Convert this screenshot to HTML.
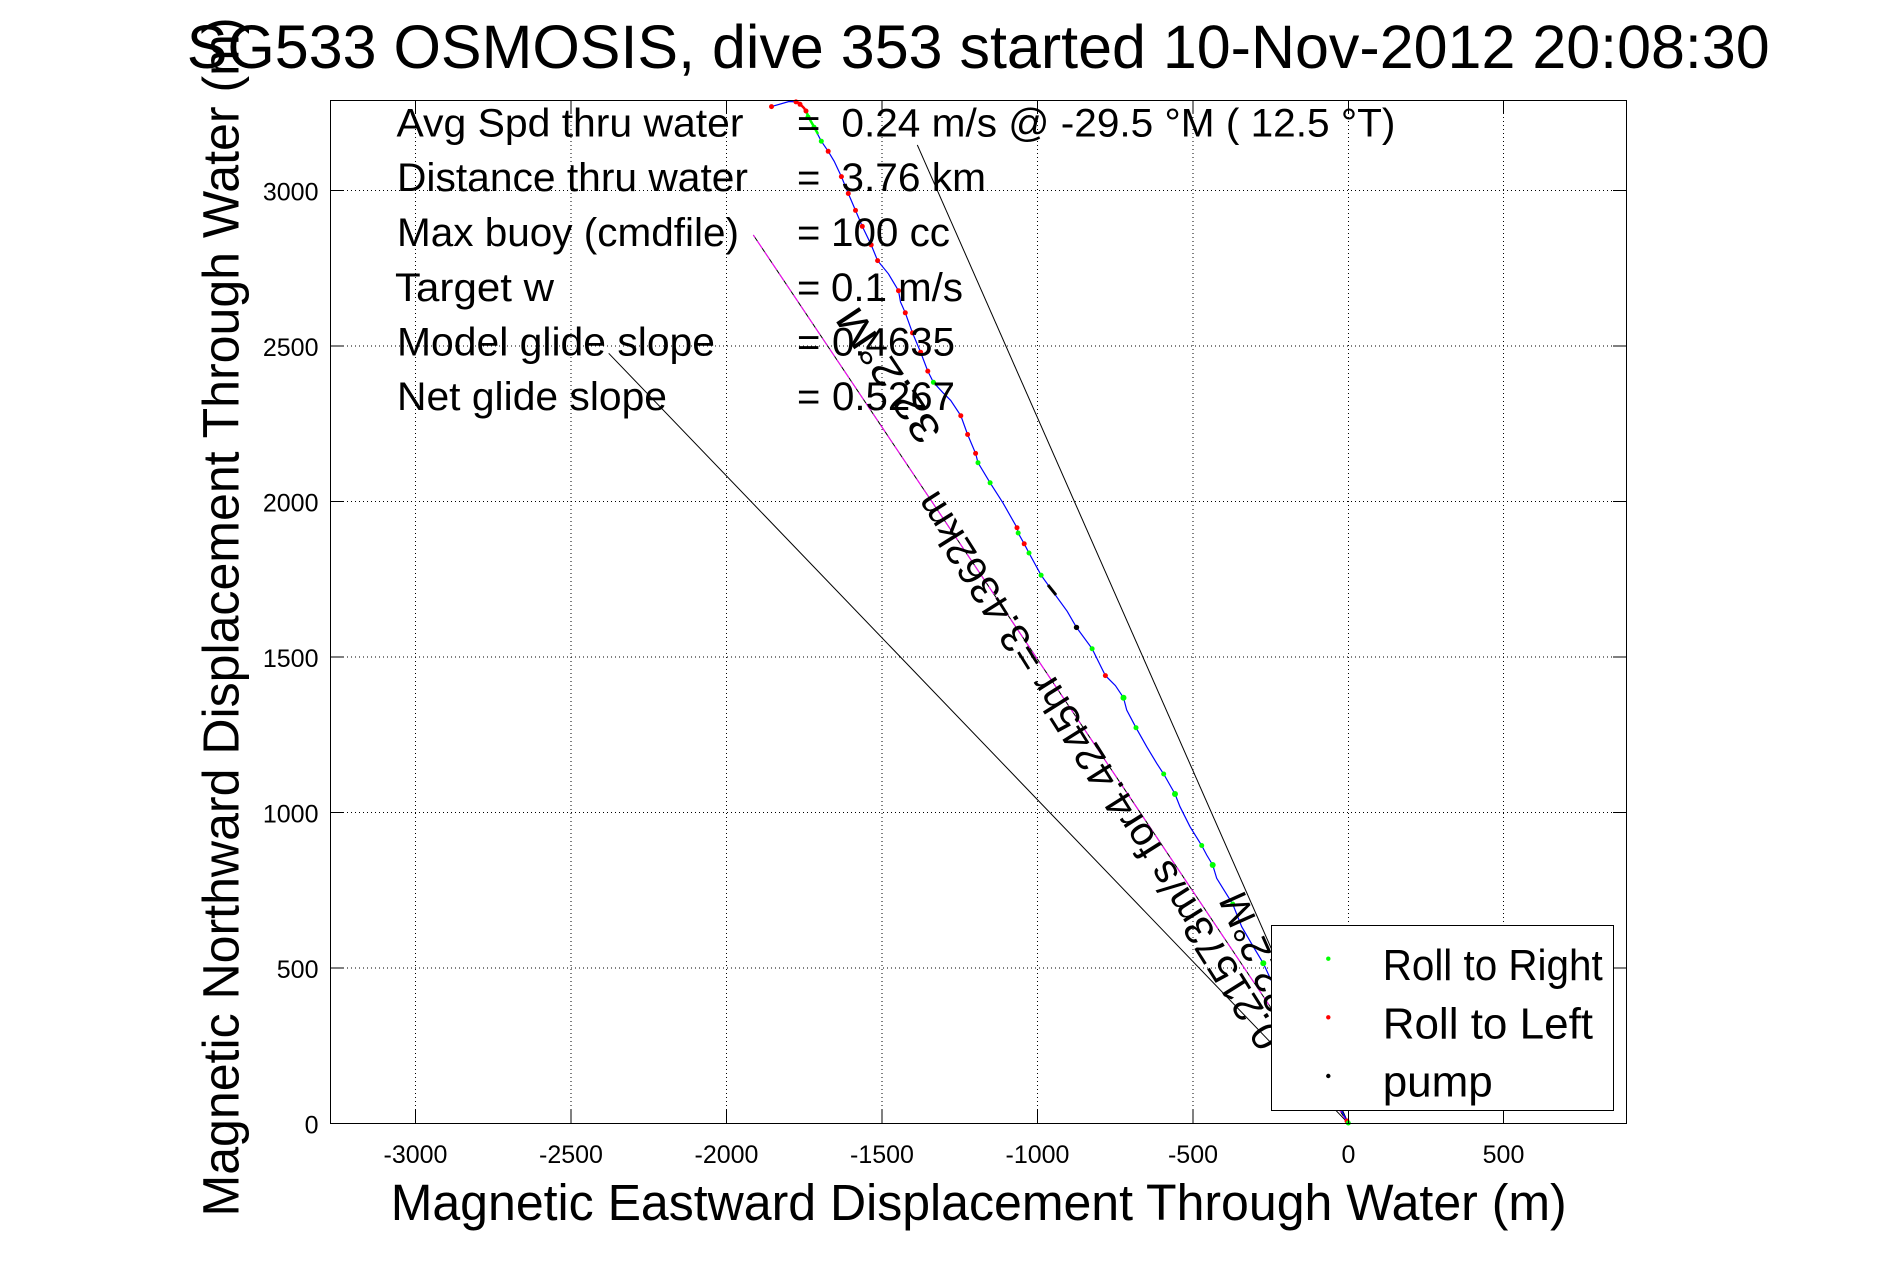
<!DOCTYPE html>
<html><head><meta charset="utf-8"><style>
html,body{margin:0;padding:0;background:#fff;}
svg{display:block;}
text{font-family:"Liberation Sans",Arial,Helvetica,sans-serif;fill:#000;}
</style></head><body>
<svg width="1891" height="1262" viewBox="0 0 1891 1262" xmlns="http://www.w3.org/2000/svg">
<rect x="0" y="0" width="1891" height="1262" fill="#fff"/>
<rect x="330.5" y="100.5" width="1296" height="1023" fill="#fff"/>
<g stroke="#000" stroke-width="1" stroke-dasharray="1,3" shape-rendering="crispEdges" fill="none">
<line x1="415.5" y1="101" x2="415.5" y2="1123"/>
<line x1="571" y1="101" x2="571" y2="1123"/>
<line x1="726.5" y1="101" x2="726.5" y2="1123"/>
<line x1="882" y1="101" x2="882" y2="1123"/>
<line x1="1037.5" y1="101" x2="1037.5" y2="1123"/>
<line x1="1193" y1="101" x2="1193" y2="1123"/>
<line x1="1348.5" y1="101" x2="1348.5" y2="1123"/>
<line x1="1503.5" y1="101" x2="1503.5" y2="1123"/>
<line x1="331" y1="190.5" x2="1626" y2="190.5"/>
<line x1="331" y1="346" x2="1626" y2="346"/>
<line x1="331" y1="501.5" x2="1626" y2="501.5"/>
<line x1="331" y1="657" x2="1626" y2="657"/>
<line x1="331" y1="812.5" x2="1626" y2="812.5"/>
<line x1="331" y1="968" x2="1626" y2="968"/>
</g>
<g fill="none" stroke-width="1">
<line x1="1348.3" y1="1123.3" x2="608.7" y2="353.3" stroke="#000"/>
<line x1="1348.3" y1="1123.3" x2="917.3" y2="144.9" stroke="#000"/>
<line x1="1348.3" y1="1123.3" x2="753.3" y2="235" stroke="#000"/>
<line x1="1348.3" y1="1123.3" x2="753.3" y2="235" stroke="#ff00ff" stroke-dasharray="9,4"/>
</g>
<polyline fill="none" stroke="#0000ff" stroke-width="1.2" points="771.5,106.6 789,101.5 796,101.9 800,104.3 806,111 808,117 814,127.2 821.3,141.2 828.2,151.3 834.2,161.3 841.4,176.6 848.3,193.5 855.5,210.4 862.3,226.4 871.2,244.9 877.6,260.6 888.4,273.8 898.5,290.7 900.5,302 905.3,312.8 912.5,332.9 920.6,352.2 927.8,371.1 933.4,382.3 942.7,392.4 950.7,400.4 960.8,415.7 967.6,434.5 975.6,453.4 978,462.7 990.1,482.8 1002.9,502.8 1017,527.7 1018.2,533 1024.2,543.8 1029,553 1041.1,575.2 1052,590.4 1067.2,611.3 1076.5,627.4 1092.1,648.7 1099.4,663.5 1105.4,675.6 1115.4,685.6 1123.5,697.7 1126.7,710 1136,727.7 1146.7,746.7 1156.7,763.3 1163.7,774 1175,794 1180,806.7 1190,826.7 1201.7,845.5 1206.7,855 1212.7,865 1216.7,878.3 1225,891.7 1232.7,904 1241.7,926.7 1253.3,946.7 1263.3,963.3 1271,980 1348.3,1123.3"/>
<polyline fill="none" stroke="#ff0000" stroke-width="2.5" points="794,101 799,103 804,108 806,111"/>
<polyline fill="none" stroke="#00ff00" stroke-width="2.5" points="806,111 809,118 813,125 818,134"/>
<g fill="#ff0000">
<circle cx="771.5" cy="106.6" r="2.5"/><circle cx="796" cy="101.9" r="2.5"/><circle cx="800" cy="104.3" r="2.5"/><circle cx="806" cy="111" r="2.5"/>
<circle cx="828.2" cy="151.3" r="2.5"/><circle cx="841.4" cy="176.6" r="2.5"/><circle cx="848.3" cy="193.5" r="2.5"/><circle cx="855.5" cy="210.4" r="2.5"/>
<circle cx="862.3" cy="226.4" r="2.5"/><circle cx="871.2" cy="244.9" r="2.5"/><circle cx="877.6" cy="260.6" r="2.5"/><circle cx="898.5" cy="290.7" r="2.5"/>
<circle cx="905.3" cy="312.8" r="2.5"/><circle cx="912.5" cy="332.9" r="2.5"/><circle cx="920.6" cy="352.2" r="2.5"/><circle cx="927.8" cy="371.1" r="2.5"/>
<circle cx="960.8" cy="415.7" r="2.5"/><circle cx="967.6" cy="434.5" r="2.5"/><circle cx="975.6" cy="453.4" r="2.5"/><circle cx="1017" cy="527.7" r="2.5"/>
<circle cx="1024.2" cy="543.8" r="2.5"/><circle cx="1105.4" cy="675.6" r="2.5"/><circle cx="1347" cy="1121" r="2.5"/>
</g>
<g fill="#00ff00">
<circle cx="808" cy="117" r="2.5"/><circle cx="814" cy="127.2" r="2.5"/><circle cx="821.3" cy="141.2" r="2.5"/><circle cx="933.4" cy="382.3" r="2.5"/>
<circle cx="978" cy="462.7" r="2.5"/><circle cx="990.1" cy="482.8" r="2.5"/><circle cx="1018.2" cy="533" r="2.5"/><circle cx="1029" cy="553" r="2.5"/>
<circle cx="1041.1" cy="575.2" r="2.5"/><circle cx="1092.1" cy="648.7" r="2.5"/><circle cx="1123.5" cy="697.7" r="3"/><circle cx="1136" cy="727.7" r="2.5"/>
<circle cx="1163.7" cy="774" r="2.5"/><circle cx="1175" cy="794" r="3"/><circle cx="1201.7" cy="845.5" r="2.5"/><circle cx="1212.7" cy="865" r="3"/>
<circle cx="1232.7" cy="904" r="2.5"/><circle cx="1263.3" cy="963.3" r="3"/><circle cx="1348.3" cy="1123" r="2.5"/>
</g>
<g fill="#000" stroke="#000">
<line x1="1048" y1="585" x2="1056" y2="595" stroke-width="3"/>
<circle cx="1076.5" cy="627.4" r="2.2"/>
</g>
<text transform="translate(1283.2,1038.6) rotate(-122.2)" font-size="40" textLength="650" lengthAdjust="spacingAndGlyphs">0.21573m/s for4.4245hr =3.4362km</text>
<text transform="translate(942.8,431.6) rotate(-123.9)" font-size="40" textLength="154" lengthAdjust="spacingAndGlyphs">32.2°M</text>
<text transform="translate(1243.2,888.8) rotate(-114)" font-size="40" text-anchor="end">@ -22.2°M</text>
<g font-size="40">
<text x="396.5" y="136.5" textLength="347" lengthAdjust="spacingAndGlyphs">Avg Spd thru water</text>
<text x="397" y="191" textLength="351" lengthAdjust="spacingAndGlyphs">Distance thru water</text>
<text x="397" y="246" textLength="342" lengthAdjust="spacingAndGlyphs">Max buoy (cmdfile)</text>
<text x="395" y="301" textLength="159" lengthAdjust="spacingAndGlyphs">Target w</text>
<text x="397" y="355.5" textLength="318" lengthAdjust="spacingAndGlyphs">Model glide slope</text>
<text x="397" y="410" textLength="270" lengthAdjust="spacingAndGlyphs">Net glide slope</text>
<text x="797" y="136.5">=</text>
<text x="841.4" y="136.5" textLength="554" lengthAdjust="spacingAndGlyphs">0.24 m/s @ -29.5 °M ( 12.5 °T)</text>
<text x="797" y="191">=</text>
<text x="841.4" y="191" textLength="144.6" lengthAdjust="spacingAndGlyphs">3.76 km</text>
<text x="797" y="246">=</text>
<text x="831" y="246" textLength="119" lengthAdjust="spacingAndGlyphs">100 cc</text>
<text x="797" y="301">=</text>
<text x="831" y="301" textLength="132" lengthAdjust="spacingAndGlyphs">0.1 m/s</text>
<text x="797" y="355.5">=</text>
<text x="832" y="355.5" textLength="123" lengthAdjust="spacingAndGlyphs">0.4635</text>
<text x="797" y="410">=</text>
<text x="832" y="410" textLength="123" lengthAdjust="spacingAndGlyphs">0.5267</text>
</g>
<g stroke="#000" stroke-width="1" fill="none" shape-rendering="crispEdges">
<rect x="330.5" y="100.5" width="1296" height="1023"/>
<path d="M415.5 1123V1110M571 1123V1110M726.5 1123V1110M882 1123V1110M1037.5 1123V1110M1193 1123V1110M1348.5 1123V1110M1503.5 1123V1110
M415.5 101V114M571 101V114M726.5 101V114M882 101V114M1037.5 101V114M1193 101V114M1348.5 101V114M1503.5 101V114
M331 190.5H344M331 346H344M331 501.5H344M331 657H344M331 812.5H344M331 968H344
M1626 190.5H1613M1626 346H1613M1626 501.5H1613M1626 657H1613M1626 812.5H1613M1626 968H1613"/>
</g>
<rect x="1271.5" y="925.5" width="342" height="185" fill="#fff" stroke="#000" stroke-width="1" shape-rendering="crispEdges"/>
<circle cx="1328.3" cy="958.7" r="2.2" fill="#00ff00"/>
<circle cx="1328.3" cy="1017.3" r="2.2" fill="#ff0000"/>
<circle cx="1328.3" cy="1076" r="2.2" fill="#000"/>
<g font-size="44">
<text x="1382.7" y="980" textLength="220" lengthAdjust="spacingAndGlyphs">Roll to Right</text>
<text x="1382.7" y="1038.3">Roll to Left</text>
<text x="1382.7" y="1096.7">pump</text>
</g>
<g font-size="25" text-anchor="middle">
<text x="415.5" y="1163">-3000</text>
<text x="571" y="1163">-2500</text>
<text x="726.5" y="1163">-2000</text>
<text x="882" y="1163">-1500</text>
<text x="1037.5" y="1163">-1000</text>
<text x="1193" y="1163">-500</text>
<text x="1348.5" y="1163">0</text>
<text x="1503.5" y="1163">500</text>
</g>
<g font-size="25" text-anchor="end">
<text x="318.5" y="200.5">3000</text>
<text x="318.5" y="356">2500</text>
<text x="318.5" y="511.5">2000</text>
<text x="318.5" y="667">1500</text>
<text x="318.5" y="822.5">1000</text>
<text x="318.5" y="978">500</text>
<text x="318.5" y="1133.5">0</text>
</g>
<text x="978.7" y="1220" font-size="51" text-anchor="middle" textLength="1176" lengthAdjust="spacingAndGlyphs">Magnetic Eastward Displacement Through Water (m)</text>
<text transform="translate(238.5,617) rotate(-90)" font-size="51" text-anchor="middle" textLength="1199" lengthAdjust="spacingAndGlyphs">Magnetic Northward Displacement Through Water (m)</text>
<text x="186.7" y="68" font-size="61" textLength="1583" lengthAdjust="spacingAndGlyphs">SG533 OSMOSIS, dive 353 started 10-Nov-2012 20:08:30</text>
</svg>
</body></html>
